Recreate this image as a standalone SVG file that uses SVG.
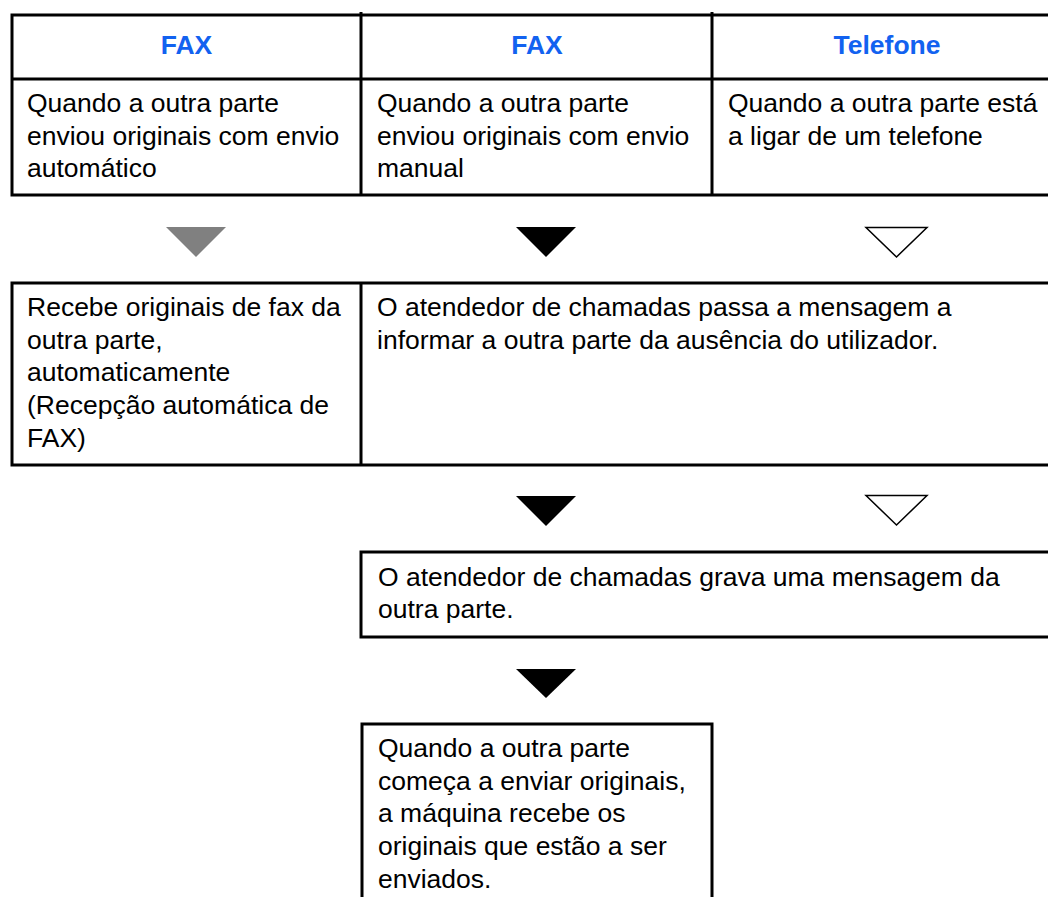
<svg xmlns="http://www.w3.org/2000/svg" width="1048" height="897" viewBox="0 0 1048 897">
<style>
.t{font-family:"Liberation Sans",Arial,sans-serif;font-size:26.5px;fill:#000}
.h{font-family:"Liberation Sans",Arial,sans-serif;font-size:26.5px;font-weight:bold;fill:#1262f0;text-anchor:middle}
.ln{stroke:#000;stroke-width:3;fill:none}
.thin{stroke:#000;stroke-width:1.5;fill:#fff;stroke-linejoin:miter}
</style>
<rect width="1048" height="897" fill="#fff"/>
<g id="table-top">
<path class="ln" d="M1048 15H12V195H1048M12 79H1048M361 12V196M712 12V196"/>
<text class="h" x="186.5" y="54">FAX</text>
<text class="h" x="537" y="54">FAX</text>
<text class="h" x="887" y="54">Telefone</text>
</g>
<g id="col1-top">
<text class="t" x="27" y="112">Quando a outra parte</text>
<text class="t" x="27" y="145">enviou originais com envio</text>
<text class="t" x="27" y="177">automático</text>
</g>
<g id="col2-top">
<text class="t" x="377" y="112">Quando a outra parte</text>
<text class="t" x="377" y="145">enviou originais com envio</text>
<text class="t" x="377" y="177">manual</text>
</g>
<g id="col3-top">
<text class="t" x="728" y="112">Quando a outra parte está</text>
<text class="t" x="728" y="145">a ligar de um telefone</text>
</g>
<g id="connectors">
<polygon points="166,227 226,227 196,257" fill="#808080"/>
<polygon points="516,227 576,227 546,257" fill="#000"/>
<polygon class="thin" points="866,227.5 927,227.5 896.5,257"/>
<polygon points="516,496 576,496 546,526" fill="#000"/>
<polygon class="thin" points="866,495.5 927,495.5 896.5,525"/>
<polygon points="516,669 576,669 546,698" fill="#000"/>
</g>
<g id="row2">
<path class="ln" d="M1048 283H12V465H1048M361 283V465"/>
</g>
<g id="auto-receive">
<text class="t" x="27" y="316">Recebe originais de fax da</text>
<text class="t" x="27" y="349">outra parte,</text>
<text class="t" x="27" y="381">automaticamente</text>
<text class="t" x="27" y="414">(Recepção automática de</text>
<text class="t" x="27" y="447">FAX)</text>
</g>
<g id="answering-message">
<text class="t" x="377" y="316">O atendedor de chamadas passa a mensagem a</text>
<text class="t" x="377" y="349">informar a outra parte da ausência do utilizador.</text>
</g>
<g id="record-message">
<path class="ln" d="M1048 552H361V637H1048"/>
<text class="t" x="378" y="586">O atendedor de chamadas grava uma mensagem da</text>
<text class="t" x="378" y="618">outra parte.</text>
</g>
<g id="machine-receives">
<path class="ln" d="M362 897V724H712V897"/>
<text class="t" x="378" y="757">Quando a outra parte</text>
<text class="t" x="378" y="790">começa a enviar originais,</text>
<text class="t" x="378" y="822">a máquina recebe os</text>
<text class="t" x="378" y="855">originais que estão a ser</text>
<text class="t" x="378" y="888">enviados.</text>
</g>
</svg>
